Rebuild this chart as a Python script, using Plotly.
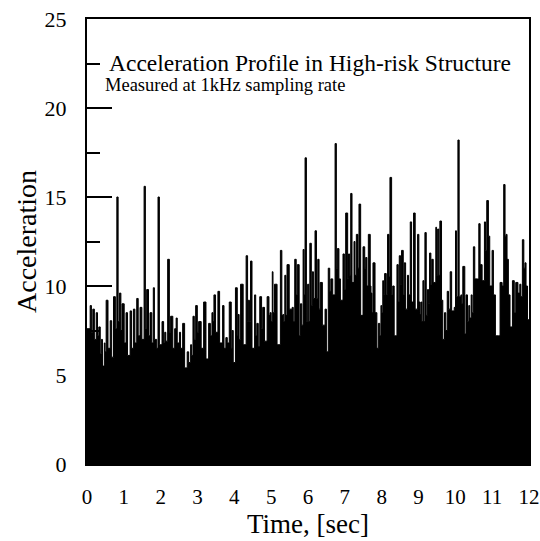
import plotly.graph_objects as go

# Time (s) and acceleration values (peaks and troughs of the trace)
time_s = [
    0.00, 0.086, 0.12, 0.158, 0.20, 0.25, 0.285, 0.32, 0.36, 0.39, 0.42, 0.47, 0.49, 0.52, 0.57, 0.63, 0.67, 0.72, 0.77, 0.81,
    0.845, 0.88, 0.92, 0.95, 1.01, 1.06, 1.10, 1.17, 1.21, 1.26, 1.30, 1.35, 1.39, 1.44, 1.49, 1.55, 1.585, 1.62, 1.67, 1.71,
    1.76, 1.80, 1.83, 1.892, 1.928, 1.965, 2.037, 2.08, 2.11, 2.14, 2.19, 2.236, 2.27, 2.33, 2.38, 2.42, 2.45, 2.51, 2.54, 2.597,
    2.65, 2.72, 2.76, 2.813, 2.84, 2.877, 2.913, 2.95, 2.995, 3.03, 3.10, 3.166, 3.23, 3.302, 3.35, 3.392, 3.42, 3.446, 3.49, 3.554,
    3.60, 3.681, 3.72, 3.77, 3.808, 3.862, 3.916, 3.94, 3.97, 4.03, 4.08, 4.10, 4.13, 4.17, 4.24, 4.32, 4.36, 4.38, 4.41, 4.44,
    4.48, 4.55, 4.58, 4.61, 4.65, 4.69, 4.74, 4.77, 4.82, 4.89, 4.94, 4.97, 5.00, 5.03, 5.05, 5.09, 5.16, 5.25, 5.29, 5.32,
    5.34, 5.37, 5.40, 5.43, 5.49, 5.57, 5.60, 5.64, 5.68, 5.71, 5.76, 5.795, 5.83, 5.867, 5.894, 5.92, 5.957, 5.99, 6.02, 6.05,
    6.09, 6.12, 6.147, 6.19, 6.23, 6.265, 6.30, 6.33, 6.39, 6.463, 6.50, 6.55, 6.59, 6.62, 6.671, 6.735, 6.77, 6.797, 6.84, 6.88,
    6.95, 6.988, 7.023, 7.077, 7.10, 7.13, 7.159, 7.195, 7.249, 7.276, 7.312, 7.357, 7.384, 7.43, 7.494, 7.54, 7.566, 7.60, 7.638, 7.69,
    7.71, 7.737, 7.764, 7.82, 7.87, 7.91, 7.95, 7.98, 8.00, 8.03, 8.05, 8.08, 8.125, 8.16, 8.20, 8.225, 8.27, 8.30, 8.34, 8.415,
    8.45, 8.478, 8.514, 8.54, 8.586, 8.613, 8.65, 8.70, 8.73, 8.776, 8.812, 8.866, 8.91, 8.975, 9.01, 9.04, 9.065, 9.092, 9.12, 9.146,
    9.174, 9.21, 9.246, 9.273, 9.30, 9.336, 9.36, 9.40, 9.47, 9.49, 9.52, 9.55, 9.58, 9.625, 9.66, 9.706, 9.74, 9.78, 9.815, 9.86,
    9.90, 9.97, 10.005, 10.03, 10.07, 10.104, 10.15, 10.176, 10.203, 10.257, 10.29, 10.33, 10.365, 10.39, 10.43, 10.456, 10.49, 10.528, 10.60, 10.637,
    10.673, 10.727, 10.79, 10.82, 10.853, 10.898, 10.934, 10.998, 11.034, 11.088, 11.178, 11.214, 11.27, 11.313, 11.35, 11.377, 11.404, 11.44, 11.485, 11.55,
    11.60, 11.64, 11.70, 11.75, 11.78, 11.82, 11.86, 11.89, 11.92, 11.96, 12.00,
]
accel = [
    7.6, 8.9, 7.4, 8.7, 7.0, 8.5, 7.2, 7.7, 6.2, 7.0, 5.5, 6.8, 6.3, 9.2, 6.5, 8.05, 6.0, 9.4, 7.6, 15.0,
    8.0, 9.6, 7.5, 9.0, 6.8, 8.5, 6.1, 8.6, 6.5, 8.7, 6.8, 9.3, 7.2, 8.8, 7.0, 15.6, 7.6, 9.8, 7.2, 8.5,
    6.8, 9.9, 7.0, 6.5, 15.0, 6.7, 8.0, 6.8, 7.4, 6.9, 11.5, 7.4, 8.3, 6.5, 7.6, 8.2, 6.8, 7.4, 6.5, 7.9,
    5.4, 6.3, 5.7, 6.7, 6.1, 8.3, 7.0, 8.9, 7.4, 8.0, 6.5, 9.1, 5.9, 7.9, 7.2, 8.5, 8.0, 9.5, 7.4, 9.7,
    6.8, 8.9, 6.5, 7.1, 6.8, 9.1, 6.5, 7.5, 5.7, 9.9, 7.2, 8.4, 7.0, 10.1, 6.7, 11.7, 8.0, 9.2, 8.0, 11.4,
    6.5, 9.5, 7.2, 7.9, 6.6, 9.4, 7.6, 8.8, 6.9, 9.4, 8.35, 8.5, 8.0, 10.8, 8.5, 10.1, 6.7, 12.0, 8.35, 8.4,
    8.0, 10.6, 8.35, 11.2, 8.7, 8.8, 8.0, 11.5, 9.5, 11.2, 7.2, 9.0, 7.8, 12.05, 9.5, 17.2, 8.0, 10.1, 8.0, 12.4,
    8.9, 10.8, 9.3, 13.1, 9.3, 11.5, 8.7, 10.2, 7.8, 8.7, 6.3, 11.0, 9.7, 10.4, 9.5, 18.0, 11.0, 12.1, 10.4, 9.2,
    11.8, 9.8, 14.1, 10.4, 11.8, 10.6, 15.2, 10.2, 12.5, 10.6, 12.9, 11.0, 14.6, 8.35, 12.2, 11.0, 11.6, 10.0, 12.9, 10.0,
    9.6, 8.5, 11.3, 8.5, 6.5, 7.9, 7.2, 8.9, 8.5, 10.3, 9.5, 10.7, 9.5, 12.9, 10.5, 16.1, 9.5, 10.0, 7.2, 11.2,
    9.1, 11.7, 10.06, 12.0, 9.5, 11.3, 8.7, 10.6, 9.5, 13.6, 9.1, 14.1, 8.7, 12.9, 9.1, 8.4, 9.1, 8.0, 10.3, 8.0,
    13.0, 8.35, 9.8, 9.0, 11.85, 10.06, 11.5, 10.2, 13.3, 10.6, 13.2, 10.6, 13.65, 9.2, 7.0, 8.5, 7.5, 9.7, 8.7, 10.8,
    8.6, 8.8, 13.1, 9.4, 18.2, 9.4, 9.5, 9.0, 11.1, 7.3, 9.5, 8.0, 8.9, 8.2, 9.5, 8.5, 12.2, 10.4, 10.4, 13.5,
    11.2, 10.3, 13.6, 12.0, 14.8, 12.8, 10.0, 12.0, 9.5, 7.2, 7.2, 10.2, 10.0, 15.7, 12.8, 12.9, 11.5, 9.5, 7.7, 10.3,
    8.5, 10.2, 9.6, 10.1, 9.4, 12.6, 11.0, 11.3, 10.0, 8.1, 8.0,
]

x_ticks = list(range(0, 13))
y_ticks = [0, 5, 10, 15, 20, 25]

title_text = "Acceleration Profile in High-risk Structure"
subtitle_text = "Measured at 1kHz sampling rate"

SERIF = "Liberation Serif, Times New Roman, serif"

fig = go.Figure()
fig.add_trace(go.Scatter(
    x=time_s, y=accel, mode="lines",
    line=dict(color="black", width=1, shape="hv"),
    fill="tozeroy", fillcolor="black",
    showlegend=False, hoverinfo="skip",
))

fig.update_layout(
    width=540, height=541,
    margin=dict(l=86.5, r=10.5, t=19, b=77, autoexpand=False),
    paper_bgcolor="white", plot_bgcolor="white",
    font=dict(family=SERIF, color="black"),
    annotations=[
        dict(text=title_text, xref="paper", yref="paper", x=0.046, y=0.902,
             xanchor="left", yanchor="middle", showarrow=False,
             font=dict(family=SERIF, size=23.5, color="black")),
        dict(text=subtitle_text, xref="paper", yref="paper", x=0.037, y=0.851,
             xanchor="left", yanchor="middle", showarrow=False,
             font=dict(family=SERIF, size=18.5, color="black")),
    ],
)

fig.update_xaxes(
    range=[0, 12], tickvals=x_ticks, ticktext=[str(v) for v in x_ticks],
    showline=True, linecolor="black", linewidth=1.5, mirror=True,
    ticks="", showgrid=False, zeroline=False,
    tickfont=dict(family=SERIF, size=21, color="black"),
    ticklabelstandoff=13, ticklabeloverflow="allow",
    title=dict(text="Time, [sec]", font=dict(family=SERIF, size=27, color="black"), standoff=4),
)
fig.update_yaxes(
    range=[0, 25], tickvals=y_ticks, ticktext=[str(v) for v in y_ticks],
    showline=True, linecolor="black", linewidth=2, mirror=True,
    ticks="inside", ticklen=25, tickwidth=2, tickcolor="black",
    minor=dict(ticks="inside", ticklen=13, tickwidth=2, tickcolor="black", dtick=2.5, showgrid=False),
    showgrid=False, zeroline=False,
    tickfont=dict(family=SERIF, size=22, color="black"),
    ticklabelstandoff=14, ticklabeloverflow="allow",
    title=dict(text="Acceleration", font=dict(family=SERIF, size=28, color="black"), standoff=0),
)

# remove the default page margin so the 540x541 figure fills the window exactly
fig.write_html(
    "out.html",
    config={"displayModeBar": False},
    post_script="document.body.style.margin='0';document.body.style.overflow='hidden';",
)
